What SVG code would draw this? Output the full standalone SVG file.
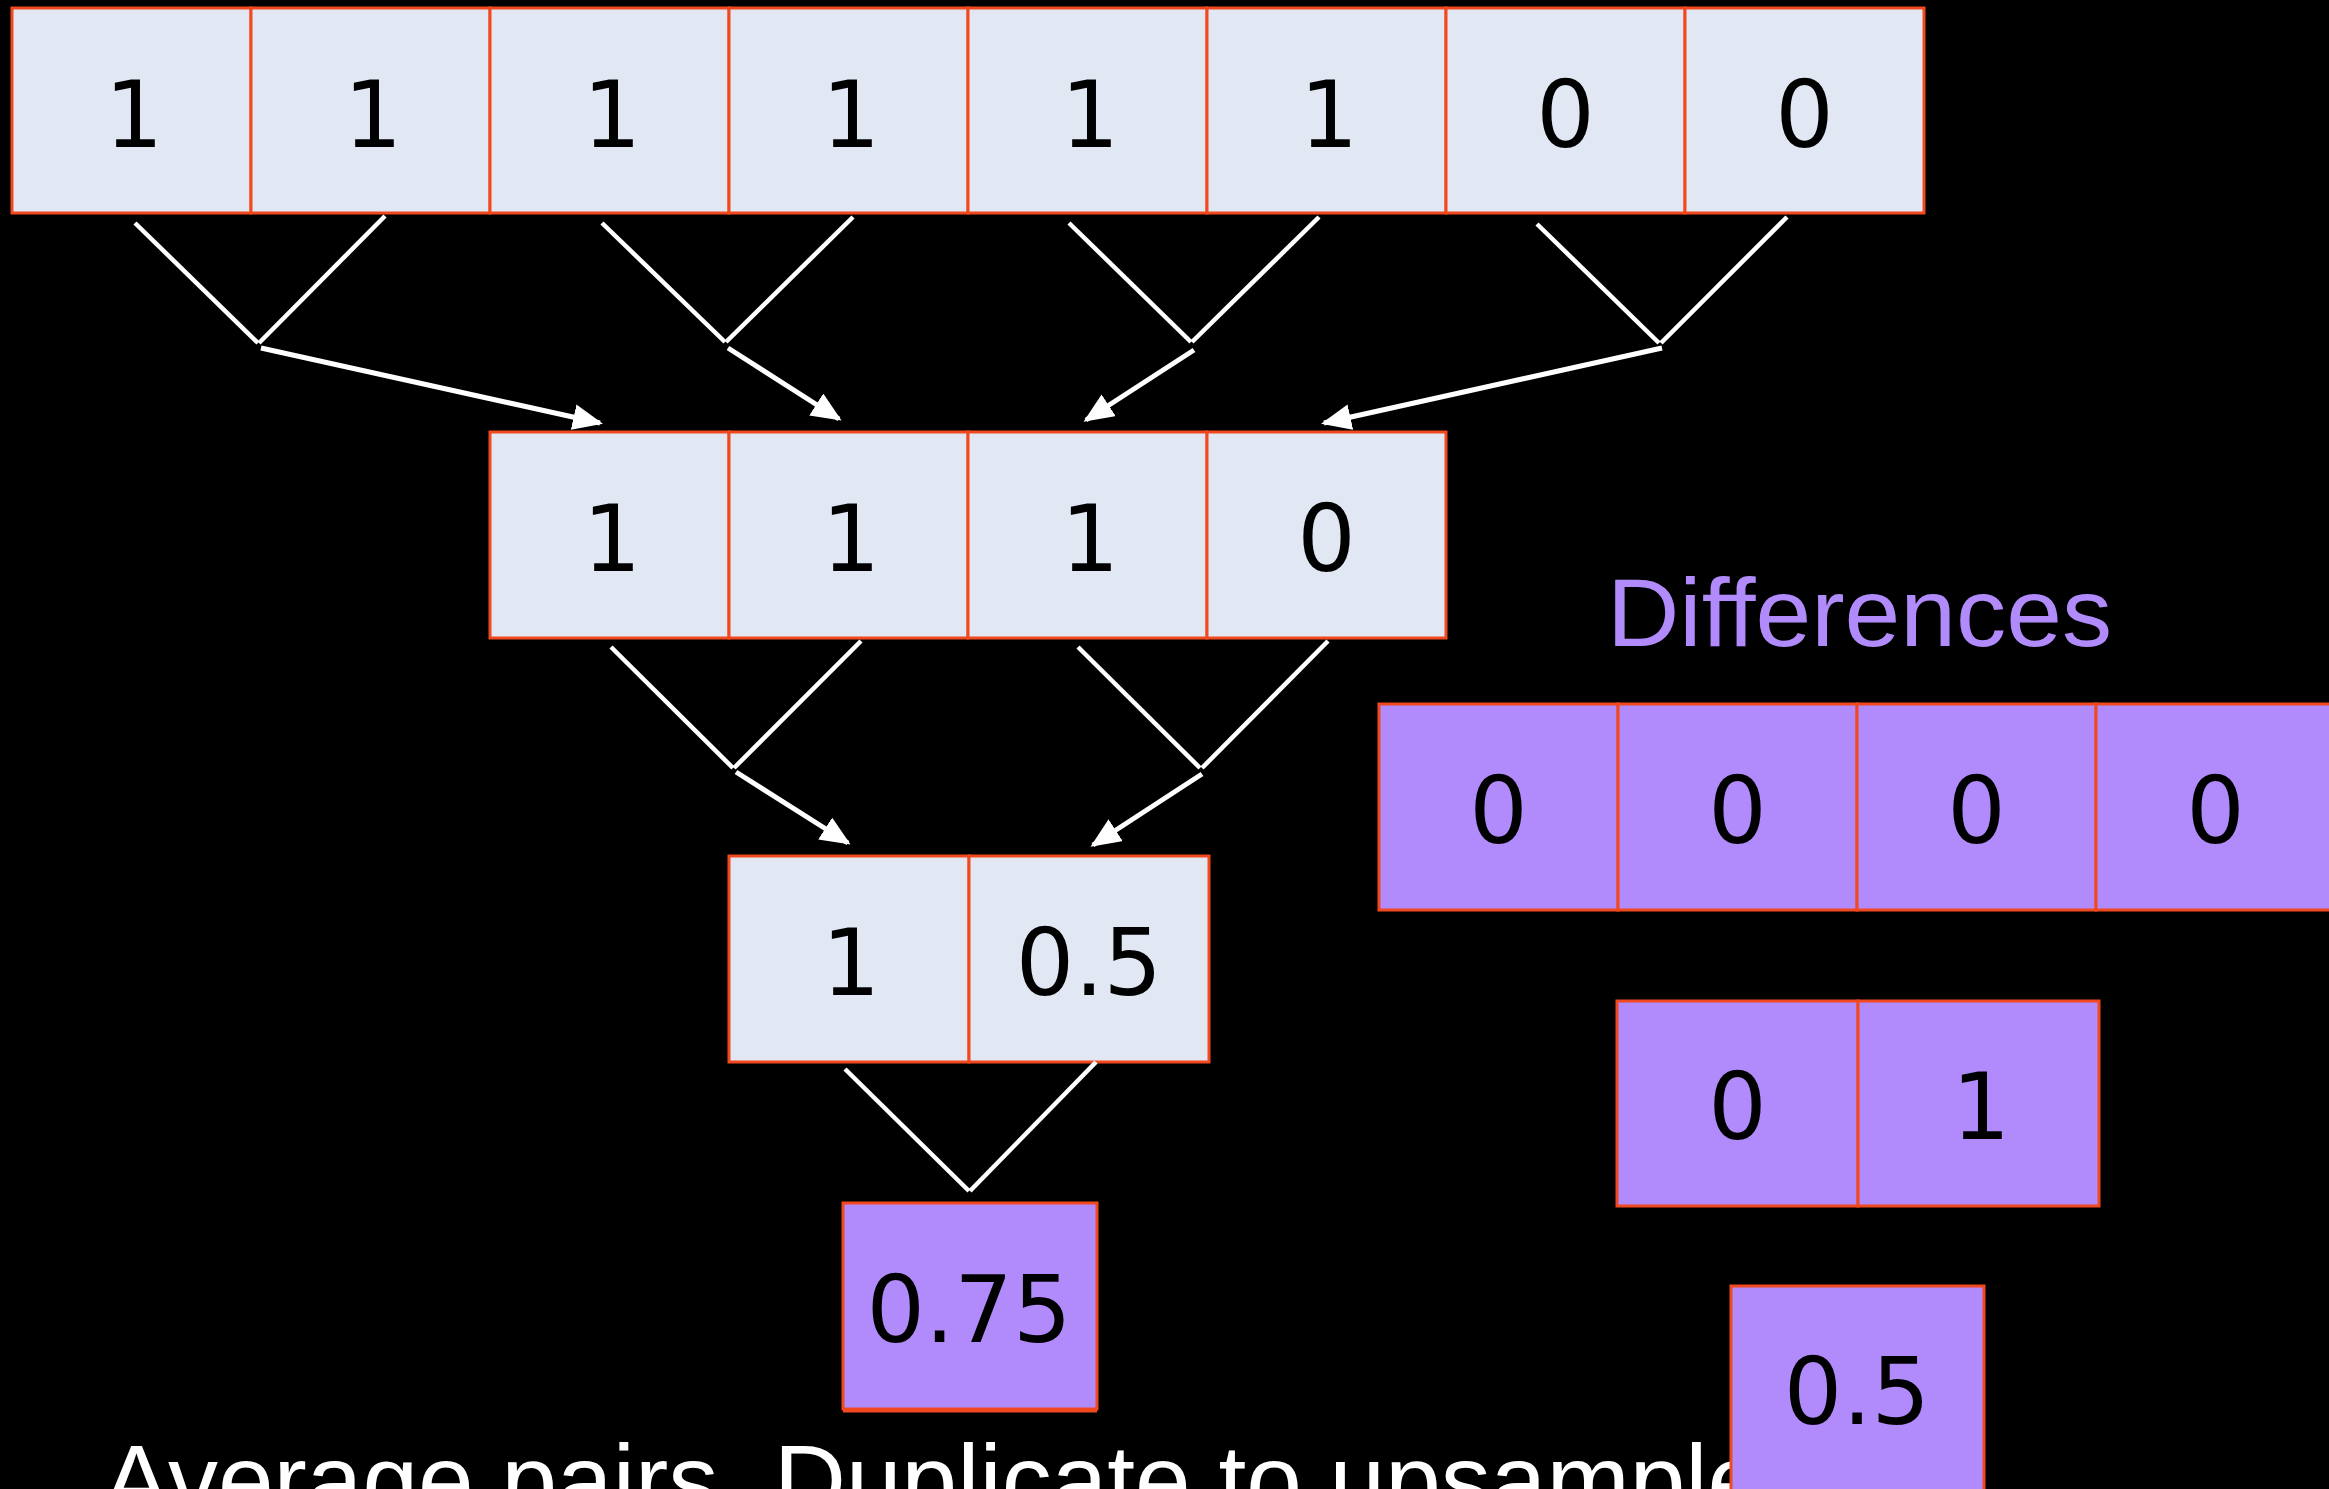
<svg xmlns="http://www.w3.org/2000/svg" width="2329" height="1489" viewBox="0 0 2329 1489">
  <defs>
    <style>
      .cell { fill: #E1E8F4; stroke: #F2481F; stroke-width: 3; }
      .diff { fill: #B18BFB; stroke: #F2481F; stroke-width: 3; }
      .num { font-family: "DejaVu Sans", "Liberation Sans", sans-serif; font-size: 92px; fill: #000; text-anchor: middle; }
      .wire { stroke: #FFFFFF; stroke-width: 4.5; fill: none; stroke-linecap: butt; }
      .flow { stroke: #FFFFFF; stroke-width: 5; fill: none; marker-end: url(#head); }
      .title { font-family: "Liberation Sans", "Arial", sans-serif; font-size: 96px; fill: #B18BFB; }
      .caption { font-family: "Liberation Sans", "Arial", sans-serif; font-size: 100px; fill: #FFFFFF; }
    </style>
    <marker id="head" viewBox="0 0 10 10" refX="9" refY="5" markerUnits="userSpaceOnUse" markerWidth="30" markerHeight="26" orient="auto" preserveAspectRatio="none">
      <path d="M0,0 L10,5 L0,10 z" fill="#FFFFFF"/>
    </marker>
  </defs>

  <rect x="0" y="0" width="2329" height="1489" fill="#000000"/>

  <!-- level 0: eight samples -->
  <g id="row-samples">
    <rect class="cell" x="12" y="8" width="239" height="205"/>
    <rect class="cell" x="251" y="8" width="239" height="205"/>
    <rect class="cell" x="490" y="8" width="239" height="205"/>
    <rect class="cell" x="729" y="8" width="239" height="205"/>
    <rect class="cell" x="968" y="8" width="239" height="205"/>
    <rect class="cell" x="1207" y="8" width="239" height="205"/>
    <rect class="cell" x="1446" y="8" width="239" height="205"/>
    <rect class="cell" x="1685" y="8" width="239" height="205"/>
    <text class="num" x="134" y="147">1</text>
    <text class="num" x="373" y="147">1</text>
    <text class="num" x="612" y="147">1</text>
    <text class="num" x="851" y="147">1</text>
    <text class="num" x="1090" y="147">1</text>
    <text class="num" x="1329" y="147">1</text>
    <text class="num" x="1565.5" y="147">0</text>
    <text class="num" x="1804.5" y="147">0</text>
  </g>

  <!-- level 1: four averages -->
  <g id="row-avg4">
    <rect class="cell" x="490" y="432" width="239" height="206"/>
    <rect class="cell" x="729" y="432" width="239" height="206"/>
    <rect class="cell" x="968" y="432" width="239" height="206"/>
    <rect class="cell" x="1207" y="432" width="239" height="206"/>
    <text class="num" x="612" y="571">1</text>
    <text class="num" x="851" y="571">1</text>
    <text class="num" x="1090" y="571">1</text>
    <text class="num" x="1326.5" y="571">0</text>
  </g>

  <!-- level 2: two averages -->
  <g id="row-avg2">
    <rect class="cell" x="729" y="856" width="240" height="206"/>
    <rect class="cell" x="969" y="856" width="240" height="206"/>
    <text class="num" x="851" y="995">1</text>
    <text class="num" x="1089" y="995">0.5</text>
  </g>

  <!-- level 3: overall average -->
  <g id="node-avg1">
    <line x1="843" y1="1411" x2="1097" y2="1411" stroke="#F2481F" stroke-width="3"/>
    <rect class="diff" x="843" y="1203" width="254" height="206"/>
    <text class="num" x="969" y="1342">0.75</text>
  </g>

  <!-- pairing wires and arrows -->
  <g id="connectors">
    <line class="wire" x1="135" y1="223" x2="258" y2="343"/>
    <line class="wire" x1="385" y1="216" x2="259" y2="343"/>
    <line class="wire" x1="602" y1="223" x2="725" y2="342"/>
    <line class="wire" x1="853" y1="217" x2="726" y2="342"/>
    <line class="wire" x1="1069" y1="223" x2="1191" y2="342"/>
    <line class="wire" x1="1319" y1="217" x2="1192" y2="342"/>
    <line class="wire" x1="1537" y1="224" x2="1659" y2="343"/>
    <line class="wire" x1="1787" y1="217" x2="1661" y2="343"/>

    <line class="flow" x1="261" y1="348" x2="600" y2="423"/>
    <line class="flow" x1="728" y1="348" x2="839" y2="419"/>
    <line class="flow" x1="1194" y1="350" x2="1086" y2="420"/>
    <line class="flow" x1="1662" y1="348" x2="1324" y2="423"/>

    <line class="wire" x1="611" y1="647" x2="733" y2="768"/>
    <line class="wire" x1="861" y1="641" x2="734" y2="768"/>
    <line class="wire" x1="1078" y1="647" x2="1200" y2="768"/>
    <line class="wire" x1="1328" y1="641" x2="1202" y2="768"/>

    <line class="flow" x1="736" y1="772" x2="848" y2="843"/>
    <line class="flow" x1="1202" y1="774" x2="1093" y2="845"/>

    <line class="wire" x1="845" y1="1069" x2="969" y2="1191"/>
    <line class="wire" x1="1096" y1="1062" x2="970" y2="1191"/>
  </g>

  <!-- differences -->
  <g id="label-differences">
    <text class="title" x="1607" y="646" textLength="505" lengthAdjust="spacingAndGlyphs">Differences</text>
  </g>

  <g id="row-diff4">
    <rect class="diff" x="1379" y="704" width="239" height="206"/>
    <rect class="diff" x="1618" y="704" width="239" height="206"/>
    <rect class="diff" x="1857" y="704" width="239" height="206"/>
    <rect class="diff" x="2096" y="704" width="239" height="206"/>
    <text class="num" x="1498.5" y="843">0</text>
    <text class="num" x="1737.5" y="843">0</text>
    <text class="num" x="1976.5" y="843">0</text>
    <text class="num" x="2215.5" y="843">0</text>
  </g>

  <g id="row-diff2">
    <rect class="diff" x="1617" y="1001" width="241" height="205"/>
    <rect class="diff" x="1858" y="1001" width="241" height="205"/>
    <text class="num" x="1737.5" y="1139">0</text>
    <text class="num" x="1981" y="1139">1</text>
  </g>

  <!-- caption sits beneath the last difference cell -->
  <g id="caption">
    <text class="caption" x="103" y="1515">Average pairs. Duplicate to upsample</text>
  </g>

  <g id="node-diff1">
    <rect class="diff" x="1731" y="1286" width="253" height="220"/>
    <text class="num" x="1857" y="1424">0.5</text>
  </g>
</svg>
